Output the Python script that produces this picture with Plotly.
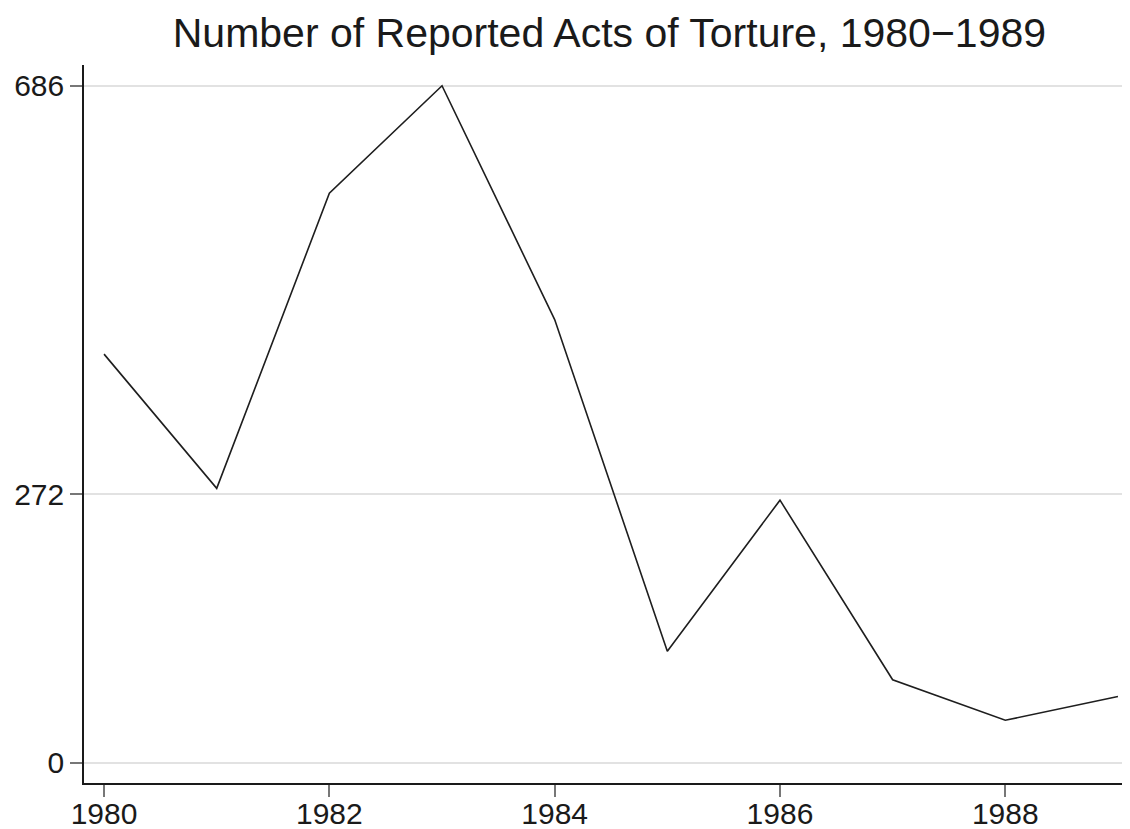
import plotly.graph_objects as go

years = [1980, 1981, 1982, 1983, 1984, 1985, 1986, 1987, 1988, 1989]
acts = [414, 278, 577, 686, 449, 113, 266, 84, 43, 67]
x_ticks = [1980, 1982, 1984, 1986, 1988]
y_ticks = [0, 272, 686]
title_text = "Number of Reported Acts of Torture, 1980\u22121989"

fig = go.Figure()
fig.add_trace(go.Scatter(
    x=years, y=acts, mode="lines",
    line=dict(color="#1e1e1e", width=1.6),
    showlegend=False, hoverinfo="x+y",
))

font_family = "Liberation Sans, Arial, Helvetica, sans-serif"

# page body has an 8px default margin, so the figure is sized to fit
fig.update_layout(
    width=1122, height=821,
    margin=dict(l=76, r=0, t=57, b=46),
    paper_bgcolor="white", plot_bgcolor="white",
    font=dict(family=font_family, color="#1a1a1a"),
    title=dict(text=title_text, x=0.536, xanchor="center",
               y=1 - 24.5 / 821, yref="container", yanchor="middle",
               font=dict(size=41, family=font_family, color="#1a1a1a")),
)
fig.update_xaxes(
    range=[1979.822, 1989.107],
    tickmode="array", tickvals=x_ticks, ticktext=[str(v) for v in x_ticks],
    ticks="outside", ticklen=12, tickwidth=1.5, tickcolor="#777777",
    ticklabelstandoff=-9,
    showline=True, linecolor="#1a1a1a", linewidth=1.5,
    showgrid=False, zeroline=False, automargin=False,
    tickfont=dict(size=30, color="#1a1a1a"),
)
fig.update_yaxes(
    range=[-20.6, 707.0],
    tickmode="array", tickvals=y_ticks, ticktext=[str(v) for v in y_ticks],
    ticks="outside", ticklen=12, tickwidth=1.5, tickcolor="#777777",
    showline=True, linecolor="#1a1a1a", linewidth=1.5,
    showgrid=True, gridcolor="#e2e2e2", gridwidth=1.5,
    zeroline=False, automargin=False,
    tickfont=dict(size=30, color="#1a1a1a"),
)

fig.write_html("out.html")
